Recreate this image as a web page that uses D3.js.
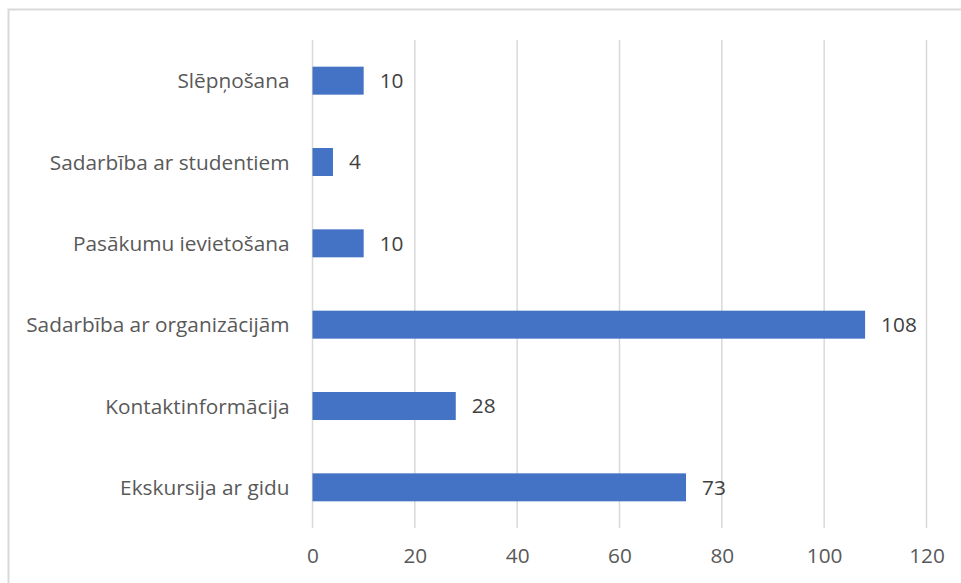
<!DOCTYPE html>
<html><head><meta charset="utf-8">
<script src="https://cdn.jsdelivr.net/npm/d3@7"></script>
<style>body{margin:0;background:#fff}svg{display:block}</style>
</head><body>
<svg id="chart" width="961" height="583"></svg>
<script>
const categories = ["Slēpņošana","Sadarbība ar studentiem","Pasākumu ievietošana","Sadarbība ar organizācijām","Kontaktinformācija","Ekskursija ar gidu"];
const values = [10,4,10,108,28,73];
const tickValues = [0,20,40,60,80,100,120];

const svg = d3.select("#chart");
const font = "'Open Sans', Lato, sans-serif";
const fsCat = 20.8;
const fsNum = 20.8;
const textColor = "#595959";

svg.append("rect").attr("x",8.5).attr("y",9.5).attr("width",1000).attr("height",1000)
  .attr("fill","#fff").attr("stroke","#d9d9d9").attr("stroke-width",2);

const x = d3.scaleLinear().domain([0,120]).range([312.5,926.5]);
const y = d3.scaleBand().domain(categories).range([40,528]).paddingInner(0.656).paddingOuter(0.328);

// gridlines
svg.append("g").selectAll("line").data(tickValues).join("line")
  .attr("x1",d=>x(d)).attr("x2",d=>x(d)).attr("y1",40).attr("y2",528)
  .attr("stroke","#d9d9d9").attr("stroke-width",1.5);

// bars
svg.append("g").selectAll("rect").data(values).join("rect")
  .attr("x",x(0)).attr("y",(d,i)=>y(categories[i]))
  .attr("width",d=>x(d)-x(0)).attr("height",y.bandwidth())
  .attr("fill","#4472C4");

// value labels
svg.append("g").selectAll("text").data(values).join("text")
  .attr("x",d=>x(d)+16).attr("y",(d,i)=>y(categories[i])+y.bandwidth()/2)
  .attr("dy","0.36em").attr("font-family",font).attr("font-size",fsNum).attr("fill","#404040")
  .text(d=>d);

// category axis
const yAxis = d3.axisLeft(y).tickSize(0).tickPadding(23);
const ya = svg.append("g").attr("transform",`translate(${x(0)},0)`).call(yAxis);
ya.select(".domain").remove();
ya.selectAll("text").attr("font-family",font).attr("font-size",fsCat).attr("fill",textColor).attr("dy","0.36em");

// value axis
const xAxis = d3.axisBottom(x).tickValues(tickValues).tickSize(0).tickPadding(20);
const xa = svg.append("g").attr("transform","translate(0,528)").call(xAxis);
xa.select(".domain").remove();
xa.selectAll("text").attr("font-family",font).attr("font-size",fsNum).attr("fill",textColor);
</script>
</body></html>
